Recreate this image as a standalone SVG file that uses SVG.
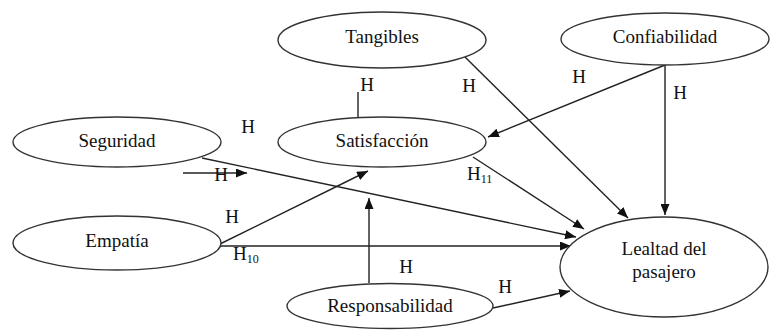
<svg xmlns="http://www.w3.org/2000/svg" width="775" height="330" viewBox="0 0 775 330" font-family="Liberation Serif, DejaVu Serif, serif">
<style>
.node ellipse{fill:#fff;stroke:#333;stroke-width:1.4}
.lbl{font-size:19px;fill:#111;text-anchor:middle}
.h{font-size:19px;fill:#111}
.sub{font-size:12px}
#connectors line{stroke:#222;stroke-width:1.4;fill:none}
</style>
<defs>
<marker id="arr" markerUnits="userSpaceOnUse" markerWidth="11" markerHeight="9" refX="11" refY="4.5" orient="auto">
<path d="M0,0 L11,4.5 L0,9 z" fill="#111"/>
</marker>
</defs>
<rect width="775" height="330" fill="#fff"/>
<g id="connectors">
<line x1="465" y1="57" x2="628" y2="218" marker-end="url(#arr)"/>
<line x1="665" y1="65" x2="665" y2="215" marker-end="url(#arr)"/>
<line x1="665" y1="65" x2="488" y2="137" marker-end="url(#arr)"/>
<line x1="202" y1="158" x2="576" y2="237" marker-end="url(#arr)"/>
<line x1="473" y1="157" x2="584" y2="229" marker-end="url(#arr)"/>
<line x1="221" y1="246" x2="571" y2="246" marker-end="url(#arr)"/>
<line x1="220" y1="244" x2="368" y2="171" marker-end="url(#arr)"/>
<line x1="369" y1="283" x2="369" y2="198" marker-end="url(#arr)"/>
<line x1="493" y1="308" x2="570" y2="291" marker-end="url(#arr)"/>
<line x1="183" y1="173" x2="247" y2="173" marker-end="url(#arr)"/>
<line x1="358" y1="92" x2="358" y2="117"/>
</g>
<g id="tangibles" class="node"><ellipse cx="382" cy="40" rx="104" ry="28"/><text class="lbl" x="382" y="43" font-family="Liberation Serif, serif">Tangibles</text></g>
<g id="confiabilidad" class="node"><ellipse cx="665" cy="39" rx="104" ry="26"/><text class="lbl" x="665" y="43">Confiabilidad</text></g>
<g id="seguridad" class="node"><ellipse cx="117" cy="142" rx="104" ry="25"/><text class="lbl" x="117" y="147">Seguridad</text></g>
<g id="satisfaccion" class="node"><ellipse cx="382" cy="142" rx="104" ry="25"/><text class="lbl" x="382" y="147">Satisfacción</text></g>
<g id="empatia" class="node"><ellipse cx="117" cy="243" rx="104" ry="27"/><text class="lbl" x="117" y="247">Empatía</text></g>
<g id="responsabilidad" class="node"><ellipse cx="390" cy="306" rx="103" ry="22.5"/><text class="lbl" x="390" y="312">Responsabilidad</text></g>
<g id="lealtad" class="node"><ellipse cx="664" cy="267" rx="104" ry="50"/><text class="lbl" x="664" y="255">Lealtad del</text><text class="lbl" x="664" y="278">pasajero</text></g>
<g id="labels">
<text class="lbl" x="367" y="91">H</text>
<text class="lbl" x="469" y="92">H</text>
<text class="lbl" x="579" y="83">H</text>
<text class="lbl" x="680" y="99">H</text>
<text class="lbl" x="248" y="133">H</text>
<text class="lbl" x="221" y="181">H</text>
<text class="lbl" x="232" y="223">H</text>
<text class="lbl" x="406" y="273">H</text>
<text class="lbl" x="505" y="293">H</text>
<text class="h" x="233" y="260">H<tspan class="sub" dy="3">10</tspan></text>
<text class="h" x="467" y="180">H<tspan class="sub" dy="3">11</tspan></text>
</g>
</svg>
